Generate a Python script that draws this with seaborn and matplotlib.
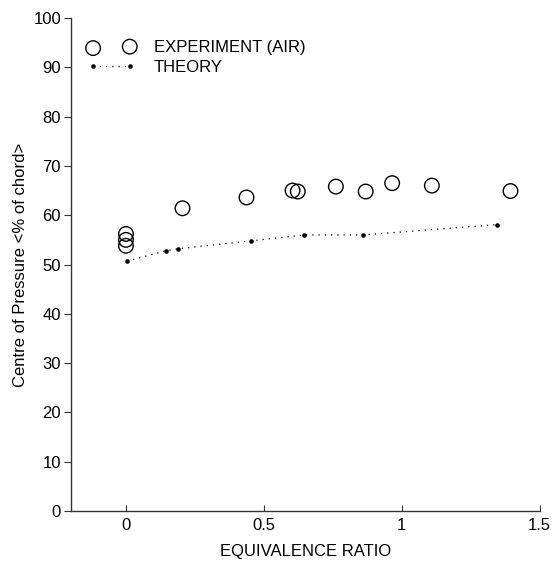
import matplotlib
matplotlib.use("Agg")
import matplotlib.pyplot as plt
import seaborn as sns
import pandas as pd

exp_x = [0.0, 0.0, 0.0, 0.205, 0.437, 0.604, 0.623, 0.761, 0.869, 0.965, 1.109, 1.394]
exp_y = [56.2, 55.0, 53.8, 61.4, 63.6, 65.0, 64.8, 65.8, 64.8, 66.5, 66.0, 64.9]

th_x = [0.004, 0.146, 0.19, 0.454, 0.646, 0.86, 1.345]
th_y = [50.7, 52.8, 53.2, 54.8, 56.0, 56.0, 58.1]

x_ticks = [0, 0.5, 1, 1.5]
y_ticks = list(range(0, 101, 10))

sns.set_style("ticks")
plt.rcParams['font.family'] = ['Liberation Sans', 'DejaVu Sans']
plt.rcParams.update({"text.color": "black", "axes.labelcolor": "black",
                     "xtick.color": "#333333", "ytick.color": "#333333",
                     "xtick.labelcolor": "black", "ytick.labelcolor": "black"})

fig = plt.figure(figsize=(5.53, 5.61), dpi=100)
ax = fig.add_axes([0.128, 0.089, 0.848, 0.879])

exp = pd.DataFrame({"x": exp_x, "y": exp_y})
th = pd.DataFrame({"x": th_x, "y": th_y})

sns.lineplot(data=th, x="x", y="y", ax=ax, color="black", linestyle=(0, (1, 4)),
             linewidth=0.9, marker="o", markersize=3.3, markeredgewidth=0,
             label="THEORY", sort=False)
sns.scatterplot(data=exp, x="x", y="y", ax=ax, marker="o", s=110,
                facecolor="none", edgecolor="black", linewidth=1.0,
                label="EXPERIMENT (AIR)")

ax.set_xlim(-0.2, 1.5)
ax.set_ylim(0, 100)
ax.set_xticks(x_ticks)
ax.set_xticklabels(["0", "0.5", "1", "1.5"])
ax.set_yticks(y_ticks)
ax.set_xlabel("EQUIVALENCE RATIO", fontsize=12, labelpad=8)
ax.set_ylabel("Centre of Pressure <% of chord>", fontsize=12)
ax.tick_params(axis="x", direction="in", length=4, labelsize=12, pad=5)
ax.tick_params(axis="y", direction="out", length=5, labelsize=12, pad=2)
for s in ["top", "right"]:
    ax.spines[s].set_visible(False)
for s in ["left", "bottom"]:
    ax.spines[s].set_color("#333333")
    ax.spines[s].set_linewidth(1.0)

handles, labels = ax.get_legend_handles_labels()
order = [labels.index("EXPERIMENT (AIR)"), labels.index("THEORY")]
leg = ax.legend([handles[i] for i in order], [labels[i] for i in order],
                loc="upper left", frameon=False, fontsize=12, numpoints=2,
                scatterpoints=2, handlelength=2.8, handletextpad=1.13,
                labelspacing=0.29, borderaxespad=0.3,
                bbox_to_anchor=(0.012, 0.978))

fig.savefig("out.png", dpi=100)
